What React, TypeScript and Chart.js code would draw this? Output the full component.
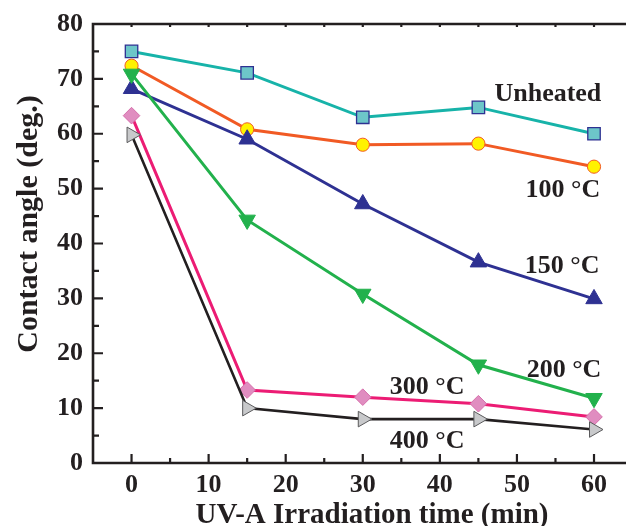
import React, { useEffect, useRef } from "react";
import { Chart, registerables } from "chart.js";

Chart.register(...registerables);

const times = [0, 15, 30, 45, 60];
const unheated = [75.0, 71.1, 63.0, 64.8, 60.0];
const c100 = [72.4, 60.8, 58.0, 58.2, 54.0];
const c150 = [68.2, 59.0, 47.2, 36.6, 29.9];
const c200 = [70.9, 44.3, 30.8, 17.9, 11.8];
const c300 = [63.3, 13.3, 12.0, 10.8, 8.4];
const c400 = [59.8, 10.0, 8.0, 8.0, 6.1];

const xTickValues = [0, 10, 20, 30, 40, 50, 60];
const yTickValues = [0, 10, 20, 30, 40, 50, 60, 70, 80];

const seriesNames = ["Unheated", "100 °C", "150 °C", "200 °C", "300 °C", "400 °C"];
const labelAnchorX = [60.95, 60.8, 60.7, 60.95, 43.2, 43.2];
const labelAnchorY = [66.0, 48.5, 34.6, 15.6, 12.5, 2.7];

const xTitle = "UV-A Irradiation time (min)";
const yTitle = "Contact angle (deg.)";

const FONT = "'Liberation Serif', 'Times New Roman', serif";
const INK = "#231f20";

const toPts = (vals: number[]) => vals.map((v, i) => ({ x: times[i], y: v }));

const framePlugin = {
  id: "frame",
  beforeDatasetsDraw(chart: any) {
    const { ctx, chartArea: a, scales } = chart;
    const x = scales.x;
    const y = scales.y;
    ctx.save();
    ctx.strokeStyle = INK;
    ctx.lineWidth = 2.6;
    ctx.lineCap = "butt";
    ctx.beginPath();
    ctx.moveTo(chart.width, a.top);
    ctx.lineTo(a.left, a.top);
    ctx.lineTo(a.left, a.bottom);
    ctx.lineTo(chart.width, a.bottom);
    ctx.stroke();
    ctx.lineWidth = 2.2;
    ctx.beginPath();
    for (let v = 5; v < 80; v += 5) {
      const py = y.getPixelForValue(v);
      const len = v % 10 === 0 ? 10 : 6;
      ctx.moveTo(a.left, py);
      ctx.lineTo(a.left + len, py);
    }
    for (let v = 0; v <= 60; v += 5) {
      const px = x.getPixelForValue(v);
      const len = v % 10 === 0 ? 9 : 5;
      ctx.moveTo(px, a.bottom);
      ctx.lineTo(px, a.bottom - len);
      ctx.moveTo(px, a.top);
      ctx.lineTo(px, a.top + 3);
    }
    ctx.stroke();
    ctx.restore();
  },
  afterDatasetsDraw(chart: any) {
    const { ctx, scales } = chart;
    const x = scales.x;
    const y = scales.y;
    ctx.save();
    ctx.fillStyle = INK;
    ctx.font = `bold 26px ${FONT}`;
    ctx.textAlign = "right";
    ctx.textBaseline = "alphabetic";
    seriesNames.forEach((n, i) => {
      ctx.fillText(n, x.getPixelForValue(labelAnchorX[i]), y.getPixelForValue(labelAnchorY[i]));
    });
    ctx.textAlign = "center";
    ctx.font = `bold 29px ${FONT}`;
    ctx.fillText(xTitle, 372, 523);
    ctx.save();
    ctx.translate(37, 224);
    ctx.rotate(-Math.PI / 2);
    ctx.font = `bold 30px ${FONT}`;
    ctx.fillText(yTitle, 0, 0);
    ctx.restore();
    ctx.restore();
  },
};

export default function App() {
  const ref = useRef<HTMLCanvasElement | null>(null);
  useEffect(() => {
    if (!ref.current) return;
    const chart = new Chart(ref.current, {
      type: "scatter",
      data: {
        datasets: [
          {
            label: seriesNames[5],
            data: toPts(c400),
            showLine: true,
            borderColor: INK,
            borderWidth: 2.6,
            pointStyle: "triangle",
            rotation: 90,
            radius: 9,
            pointBackgroundColor: "#c8c9cb",
            pointBorderColor: "#5a5a5c",
            pointBorderWidth: 1,
          },
          {
            label: seriesNames[4],
            data: toPts(c300),
            showLine: true,
            borderColor: "#ec1c74",
            borderWidth: 3,
            pointStyle: "rectRot",
            radius: 8.3,
            pointBackgroundColor: "#e08dc0",
            pointBorderColor: "#d66fab",
            pointBorderWidth: 1,
          },
          {
            label: seriesNames[3],
            data: toPts(c200),
            showLine: true,
            borderColor: "#22b14c",
            borderWidth: 3,
            pointStyle: "triangle",
            rotation: 180,
            radius: 9.5,
            pointBackgroundColor: "#22b14c",
            pointBorderColor: "#22b14c",
            pointBorderWidth: 1,
          },
          {
            label: seriesNames[2],
            data: toPts(c150),
            showLine: true,
            borderColor: "#2e3192",
            borderWidth: 3,
            pointStyle: "triangle",
            radius: 9.5,
            pointBackgroundColor: "#2e3192",
            pointBorderColor: "#2e3192",
            pointBorderWidth: 1,
          },
          {
            label: seriesNames[1],
            data: toPts(c100),
            showLine: true,
            borderColor: "#f15a24",
            borderWidth: 3,
            pointStyle: "circle",
            radius: 6.6,
            pointBackgroundColor: "#fff200",
            pointBorderColor: "#f15a24",
            pointBorderWidth: 1,
          },
          {
            label: seriesNames[0],
            data: toPts(unheated),
            showLine: true,
            borderColor: "#17b3a9",
            borderWidth: 3,
            pointStyle: "rect",
            radius: 8.8,
            pointBackgroundColor: "#6dc6c9",
            pointBorderColor: "#2e3192",
            pointBorderWidth: 1.3,
          },
        ],
      },
      options: {
        animation: false,
        responsive: true,
        maintainAspectRatio: false,
        layout: { autoPadding: false, padding: { top: 24, left: 0, right: 0, bottom: 0 } },
        plugins: { legend: { display: false }, tooltip: { enabled: false } },
        scales: {
          x: {
            type: "linear",
            min: -5,
            max: 64.15,
            grid: { display: false, drawTicks: false },
            border: { display: false },
            afterBuildTicks: (s: any) => {
              s.ticks = xTickValues.map((v) => ({ value: v }));
            },
            afterFit: (s: any) => {
              s.height = 63;
              s.paddingLeft = 0;
              s.paddingRight = 0;
            },
            ticks: {
              padding: 7,
              color: INK,
              font: { family: FONT, size: 26, weight: "bold" },
            },
          },
          y: {
            type: "linear",
            min: 0,
            max: 80,
            grid: { display: false, drawTicks: false },
            border: { display: false },
            afterBuildTicks: (s: any) => {
              s.ticks = yTickValues.map((v) => ({ value: v }));
            },
            afterFit: (s: any) => {
              s.width = 93;
              s.paddingTop = 0;
              s.paddingBottom = 0;
            },
            ticks: {
              padding: 10,
              color: INK,
              font: { family: FONT, size: 26, weight: "bold" },
            },
          },
        },
      },
      plugins: [framePlugin],
    });
    return () => chart.destroy();
  }, []);
  return (
    <div style={{ position: "fixed", left: 0, top: 0, width: 626, height: 526, background: "#fff" }}>
      <canvas ref={ref} />
    </div>
  );
}
